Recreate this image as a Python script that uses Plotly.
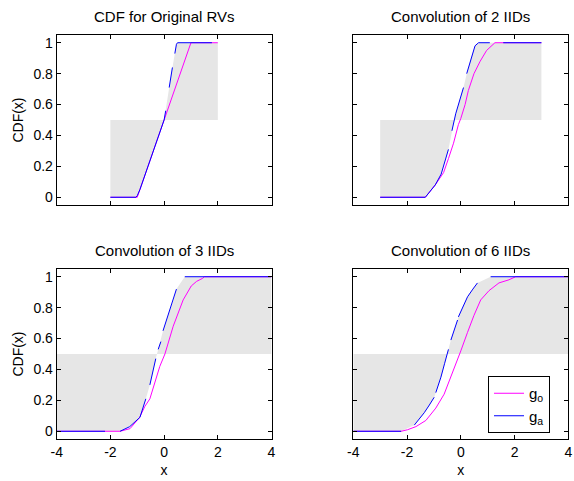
import numpy as np
import plotly.graph_objects as go

titles = ["CDF for Original RVs", "Convolution of 2 IIDs", "Convolution of 3 IIDs", "Convolution of 6 IIDs"]
x_support = [(-2, 2), (-3, 3), (-4, 4), (-4, 4)]

# g_o (magenta) readings
go_x = [
    [-2, -1.0, 0.0, 1.0, 2.0],
    [-3, -1.32, -0.95, -0.64, -0.46, -0.27, -0.09, 0.0, 0.16, 0.28, 0.49, 0.72, 0.96, 1.27, 3],
    [-4, -1.64, -1.27, -0.91, -0.72, -0.53, -0.16, 0.03, 0.34, 0.71, 1.01, 1.21, 1.44, 1.5, 4],
    [-4, -2.22, -1.98, -1.67, -1.30, -0.93, -0.62, -0.37, -0.12, 0.0, 0.25, 0.49, 0.74, 1.05, 1.42, 1.79, 2.04, 4],
]
go_y = [
    [0, 0, 0.5, 1, 1],
    [0, 0, 0.08, 0.16, 0.25, 0.35, 0.47, 0.51, 0.6, 0.69, 0.8, 0.88, 0.95, 1, 1],
    [0, 0, 0.017, 0.09, 0.16, 0.21, 0.42, 0.5, 0.68, 0.85, 0.94, 0.97, 0.99, 1, 1],
    [0, 0, 0.01, 0.03, 0.07, 0.15, 0.24, 0.35, 0.47, 0.52, 0.64, 0.75, 0.85, 0.91, 0.96, 0.98, 1, 1],
]

# g_a (blue) readings; None marks where the drawn line is broken
ga_x = [
    [-2, -1.05, -1.0, -0.9, 0.0, 0.06, None, 0.19, 0.31, None, 0.40, 0.46, 0.5, 1.78],
    [-3, -1.32, -0.95, -0.73, -0.46, None, -0.33, -0.23, -0.19, 0.1, None, 0.22, 0.41, 0.53, 0.66, 1.08, None, 1.58, 3],
    [-4, -2.2, None, -1.64, -1.28, -0.9, -0.68, None, -0.53, -0.31, None, -0.22, -0.12, None, -0.04, 0.15, 0.33, 0.46, None, 0.77, 4],
    [-4, -2.22, None, -1.73, -1.36, -1.17, -0.99, None, -0.93, -0.74, -0.6, -0.46, None, -0.37, -0.12, None, -0.09, 0.06, 0.25, 0.45, 0.62, None, 1.11, 4],
]
ga_y = [
    [0, 0, 0.01, 0.05, 0.5, 0.56, None, 0.71, 0.84, None, 0.93, 0.99, 1, 1],
    [0, 0, 0.08, 0.15, 0.31, None, 0.43, 0.51, 0.54, 0.71, None, 0.8, 0.92, 0.98, 1, 1, None, 1, 1],
    [0, 0, None, 0, 0.03, 0.09, 0.21, None, 0.30, 0.47, None, 0.53, 0.58, None, 0.65, 0.75, 0.84, 0.92, None, 1, 1],
    [0, 0, None, 0.04, 0.12, 0.17, 0.22, None, 0.25, 0.35, 0.44, 0.53, None, 0.59, 0.72, None, 0.74, 0.8, 0.87, 0.92, 0.96, None, 1, 1],
]

y_ticks = [0, 0.2, 0.4, 0.6, 0.8, 1]
y_labels = ["0", "0.2", "0.4", "0.6", "0.8", "1"]
x_ticks = [-4, -2, 0, 2, 4]
x_labels = ["-4", "-2", "0", "2", "4"]

W, H = 574, 481
xdoms = [(56.7 / W, 271.5 / W), (353.3 / W, 568.3 / W)]
ydoms = [(1 - 205 / H, 1 - 35 / H), (1 - 439 / H, 1 - 269 / H)]

FONT = "Liberation Sans, Arial, sans-serif"
fig = go.Figure()
GRAY = "rgb(230,230,230)"

for i in range(4):
    r, c = divmod(i, 2)
    ax = "" if i == 0 else str(i + 1)
    xa, ya = "x" + ax, "y" + ax
    xmin, xmax = x_support[i]
    pts = [(a, b) for a, b in zip(ga_x[i], ga_y[i]) if a is not None]
    gx = np.array([p[0] for p in pts], dtype=float)
    gy = np.array([p[1] for p in pts], dtype=float)
    x_half = float(np.interp(0.5, gy, gx))
    low = gy < 0.5
    px = [xmin] + list(gx[low]) + [x_half, xmin]
    py = [0] + list(gy[low]) + [0.5, 0.5]
    fig.add_trace(go.Scatter(x=px, y=py, fill="toself", fillcolor=GRAY, line=dict(width=0),
                             mode="lines", hoverinfo="skip", showlegend=False, xaxis=xa, yaxis=ya))
    high = gy > 0.5
    qx = [x_half] + list(gx[high]) + [xmax, xmax, x_half]
    qy = [0.5] + list(gy[high]) + [1, 0.5, 0.5]
    fig.add_trace(go.Scatter(x=qx, y=qy, fill="toself", fillcolor=GRAY, line=dict(width=0),
                             mode="lines", hoverinfo="skip", showlegend=False, xaxis=xa, yaxis=ya))
    fig.add_trace(go.Scatter(x=go_x[i], y=go_y[i], mode="lines", line=dict(color="#ff00ff", width=1),
                             name="g<sub>o</sub>", showlegend=(i == 3), xaxis=xa, yaxis=ya))
    fig.add_trace(go.Scatter(x=ga_x[i], y=ga_y[i], mode="lines", line=dict(color="#0000ff", width=1),
                             connectgaps=False,
                             name="g<sub>a</sub>", showlegend=(i == 3), xaxis=xa, yaxis=ya))

    common = dict(showline=True, linecolor="black", linewidth=1, mirror="allticks", ticks="inside",
                  ticklen=4, tickcolor="black", showgrid=False, zeroline=False, automargin=False,
                  tickfont=dict(family=FONT, size=14, color="black"))
    fig.layout["xaxis" + ax] = dict(domain=xdoms[c], range=[-4, 4], anchor=ya, tickvals=x_ticks,
                                    ticktext=x_labels, showticklabels=(r == 1),
                                    title=dict(text="x" if r == 1 else "", font=dict(family=FONT, size=14, color="black"), standoff=6),
                                    **common)
    fig.layout["yaxis" + ax] = dict(domain=ydoms[r], range=[-0.05, 1.05], anchor=xa, tickvals=y_ticks,
                                    ticktext=y_labels, showticklabels=(c == 0),
                                    title=dict(text="CDF(x)" if c == 0 else "", font=dict(family=FONT, size=14, color="black"), standoff=6),
                                    **common)
    fig.add_annotation(text=titles[i], xref="paper", yref="paper", x=(xdoms[c][0] + xdoms[c][1]) / 2,
                       y=ydoms[r][1], yanchor="bottom", xanchor="center", yshift=8, showarrow=False,
                       font=dict(family=FONT, size=15, color="black"))

fig.update_layout(
    width=W, height=H, margin=dict(l=0, r=0, t=0, b=0),
    paper_bgcolor="white", plot_bgcolor="white",
    font=dict(family=FONT, size=14, color="black"),
    legend=dict(x=488 / W, y=1 - 376 / H, xanchor="left", yanchor="top", bgcolor="white",
                bordercolor="black", borderwidth=1, font=dict(family=FONT, size=15, color="black"),
                tracegroupgap=0, itemwidth=30),
)
fig.write_html("out.html", config={"displayModeBar": False},
               post_script="document.body.style.margin='0px';")
